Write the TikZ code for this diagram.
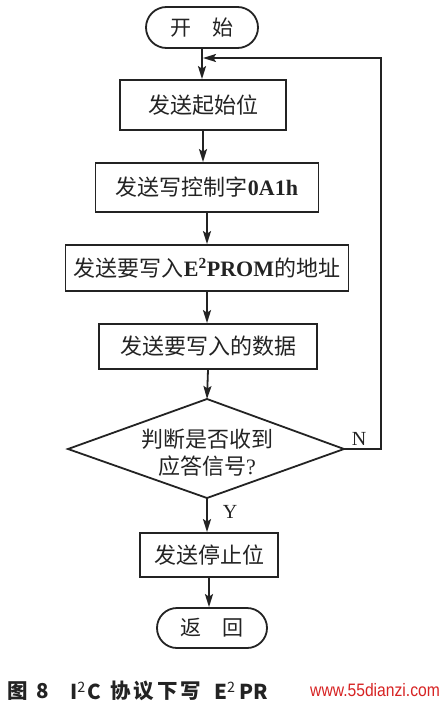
\documentclass[tikz,border=0pt]{standalone}
\usepackage{fontspec}
\usepackage{graphicx}
\setmainfont{Liberation Serif}
\newfontfamily\cjk{Noto Sans CJK SC}
\newfontfamily\wmfont{Liberation Sans}
\usetikzlibrary{arrows.meta,shapes.misc}
\definecolor{ink}{RGB}{35,35,35}
\definecolor{wmred}{RGB}{215,35,35}
\newcommand\latb[1]{{\rmfamily\bfseries #1}}
\tikzset{
  flowline/.style={draw=ink, line width=1.8pt},
  arr/.style={flowline, -{Stealth[length=13pt,width=8pt,inset=2.5pt]}},
  procbox/.style={draw=ink, line width=1.8pt, rectangle, inner sep=0pt,
    font=\cjk\fontsize{22}{26}\selectfont, text=ink},
  termbox/.style={draw=ink, line width=1.8pt, rounded rectangle, inner sep=0pt,
    font=\cjk\fontsize{21}{25}\selectfont, text=ink},
  lbl/.style={font=\fontsize{20}{22}\selectfont, text=ink, inner sep=0pt},
  dectext/.style={font=\cjk\fontsize{22}{27}\selectfont, text=ink, inner sep=0pt, align=center},
  captext/.style={font=\cjk\bfseries\fontsize{20.5}{22}\selectfont, text=ink, inner sep=0pt, anchor=west},
}
\begin{document}
\begin{tikzpicture}[x=1pt,y=-1pt]
\path[use as bounding box, fill=white] (0,0) rectangle (443,707);

% nodes
\node[termbox, minimum width=112pt, minimum height=41pt] (start) at (202,27.5) {开　始};
\node[procbox, minimum width=166pt, minimum height=50pt] (b1) at (203,105) {发送起始位};
\node[procbox, minimum width=223pt, minimum height=49pt] (b2) at (207,187.5) {发送写控制字\latb{0A1h}};
\node[procbox, minimum width=283pt, minimum height=46pt] (b3) at (207,268) {发送要写入\latb{E\textsuperscript{2}PROM}的地址};
\node[procbox, minimum width=218pt, minimum height=45pt] (b4) at (208,346.5) {发送要写入的数据};

\coordinate (dtop) at (207,399);
\coordinate (dright) at (344,449);
\coordinate (dbot) at (207,498);
\coordinate (dleft) at (68,449);
\draw[flowline] (dtop) -- (dright) -- (dbot) -- (dleft) -- cycle;
\node[dectext] (dec) at (207,453) {判断是否收到\\应答信号{\rmfamily ?}};

\node[procbox, minimum width=138pt, minimum height=44pt] (b5) at (209,555) {发送停止位};
\node[termbox, minimum width=110pt, minimum height=40pt] (stop) at (212,628) {返　回};

% connectors
\draw[arr] (start.south) -- (start.south |- b1.north);
\draw[arr] (b1.south) -- (b1.south |- b2.north);
\draw[arr] (b2.south) -- (b2.south |- b3.north);
\draw[arr] (b3.south) -- (b3.south |- b4.north);
\draw[arr] (b4.south) -- (dtop);
\draw[arr] (dbot) -- (dbot |- b5.north);
\draw[arr] (b5.south) -- (b5.south |- stop.north);

\coordinate (lr) at (381,449);
\coordinate (lt) at (381,58);
\coordinate (jn) at (203,58);
\draw[arr] (dright) -- (lr) -- (lt) -- (jn);

% labels
\node[lbl] (nlab) at (359,438.5) {N};
\node[lbl] (ylab) at (230,512) {Y};

% caption
\node[captext] (cap1) at (7,691) {图\hspace{9pt}8};
\node[captext] (cap2) at (70,691) {I\textsuperscript{\mdseries 2}\hspace{1.5pt}C};
\node[captext] (cap3) at (110,691) {协\hspace{3pt}议\hspace{3pt}下\hspace{3pt}写};
\node[captext] (cap4) at (214,691) {E\textsuperscript{\mdseries 2}\hspace{4pt}PR};
\node[inner sep=0pt, anchor=west, text=wmred] (wm) at (310,690)
  {\scalebox{0.87}[1]{\wmfont\fontsize{18}{20}\selectfont www.55dianzi.com}};
\end{tikzpicture}
\end{document}
